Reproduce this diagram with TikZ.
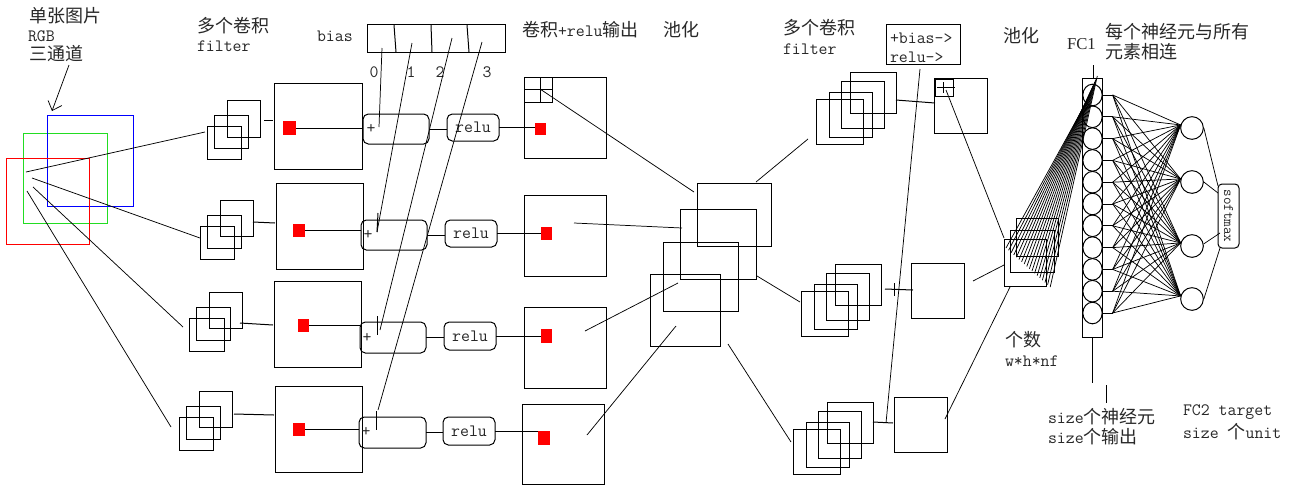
\documentclass[tikz,border=0pt]{standalone}
\usepackage{fontspec}
\setmainfont{Liberation Serif}
\newfontfamily\mycjkfam{Noto Sans CJK SC}
\newfontfamily\myseriffam{Liberation Serif}
\newcommand\mylat{\ttfamily\fontsize{13}{15}\selectfont}
\newcommand\mycjk{\mycjkfam\fontsize{13.5}{15}\selectfont}
\usetikzlibrary{fit,arrows.meta,shapes.geometric}
\newcommand\mybox[6][]{\node[bxs,#1,fit={(#3,#4) (#5,#6)}] (#2) {};}
\definecolor{imgG}{RGB}{34,221,34}
\definecolor{txtc}{RGB}{40,40,40}
\begin{document}
\begin{tikzpicture}[x=0.75pt,y=-0.75pt,line width=0.75pt,
 bxs/.style={draw,inner sep=0pt,outer sep=0pt},
 rbx/.style={rounded corners=4pt},
 rsq/.style={fill=red,draw=none},
 txt/.style={anchor=west,inner sep=0pt,outer sep=0pt,font=\mylat,text=txtc},
 ctxt/.style={anchor=west,inner sep=0pt,outer sep=0pt,font=\mycjk,text=txtc},
 ctr/.style={inner sep=0pt,outer sep=0pt,font=\mylat,text=txtc},
 fine/.style={line width=0.55pt}]
\fill[white] (0,0) rectangle (1290,487);
\useasboundingbox (0,0) rectangle (1290,487);

% ---------- input image ----------
\mybox[draw=imgG]{chG}{23}{133}{107}{223}
\mybox[draw=blue]{chB}{47}{115}{133}{206}
\mybox[draw=red]{chR}{6}{158}{89}{244}
\node[ctxt] (t1) at (30,16) {单张图片};
\node[txt] (t2) at (28,36) {RGB};
\node[ctxt] (t3) at (30,54) {三通道};
\coordinate (arrS) at (69,65);
\coordinate (arrE) at (52,111);
\draw[fine,-{Straight Barb[length=6pt,width=11pt]}] (arrS) -- (arrE);

% ---------- row 1 ----------
\mybox{s1a}{207}{126}{241}{159}
\mybox{s1b}{214}{115}{248}{148}
\mybox{s1c}{227}{100}{260}{137}
\mybox{B1}{274}{83}{362}{169}
\mybox[rsq]{r1}{283}{121}{296}{135}
\mybox[rbx]{P1}{363}{114}{429}{144}
\node[ctr] (pl1) at (371,129) {+};
\mybox[rbx]{R1}{447}{114}{499}{141}
\node[ctr] (rl1) at (R1.center) {relu};
\mybox{O1}{524}{77}{606}{158}
\mybox{g1}{524}{77}{552}{102}
\draw (524,89) -- (552,89) (540,77) -- (540,102);
\mybox[rsq]{ro1}{535}{123}{546}{135}
\draw (264,120) -- (273,120);
\draw (r1.east) -- (r1.east -| P1.west);
\draw (P1.east) -- (P1.east -| R1.west);
\draw (R1.east) -- (R1.east -| ro1.west);

% ---------- row 2 ----------
\mybox{s2a}{200}{226}{234}{259}
\mybox{s2b}{207}{215}{241}{248}
\mybox{s2c}{220}{200}{253}{236}
\mybox{B2}{276}{183}{363}{269}
\mybox[rsq]{r2}{293}{224}{305}{237}
\mybox[rbx]{P2}{361}{220}{427}{250}
\node[ctr] (pl2) at (368,235) {+};
\mybox[rbx]{R2}{445}{220}{497}{247}
\node[ctr] (rl2) at (R2.center) {relu};
\mybox{O2}{524}{195}{606}{276}
\mybox[rsq]{ro2}{541}{227}{552}{240}
\draw (253,222) -- (275,223);
\draw (r2.east) -- (r2.east -| P2.west);
\draw (P2.east) -- (P2.east -| R2.west);
\draw (R2.east) -- (R2.east -| ro2.west);

% ---------- row 3 ----------
\mybox{s3a}{189}{318}{224}{351}
\mybox{s3b}{196}{307}{230}{340}
\mybox{s3c}{209}{292}{242}{328}
\mybox{B3}{274}{281}{361}{367}
\mybox[rsq]{r3}{298}{319}{309}{332}
\mybox[rbx]{P3}{360}{322}{426}{353}
\node[ctr] (pl3) at (367,338) {+};
\mybox[rbx]{R3}{444}{322}{496}{350}
\node[ctr] (rl3) at (R3.center) {relu};
\mybox{O3}{524}{307}{606}{388}
\mybox[rsq]{ro3}{541}{329}{552}{343}
\draw (240,323) -- (273,325);
\draw (r3.east) -- (r3.east -| P3.west);
\draw (P3.east) -- (P3.east -| R3.west);
\draw (R3.east) -- (R3.east -| ro3.west);

% ---------- row 4 ----------
\mybox{s4a}{179}{417}{213}{450}
\mybox{s4b}{186}{406}{220}{439}
\mybox{s4c}{199}{391}{232}{427}
\mybox{B4}{275}{386}{362}{472}
\mybox[rsq]{r4}{293}{423}{305}{436}
\mybox[rbx]{P4}{359}{417}{426}{448}
\node[ctr] (pl4) at (366,432) {+};
\mybox[rbx]{R4}{443}{417}{495}{445}
\node[ctr] (rl4) at (R4.center) {relu};
\mybox{O4}{522}{404}{604}{484}
\mybox[rsq]{ro4}{538}{431}{550}{445}
\draw (234,414) -- (274,415);
\draw (r4.east) -- (r4.east -| P4.west);
\draw (P4.east) -- (P4.east -| R4.west);
\draw (R4.east) -- (R4.east -| ro4.west);

% ---------- fan from input ----------
\draw[fine] (26,172) -- (205,132);
\draw[fine] (32,178) -- (200,238);
\draw[fine] (33,187) -- (183,327);
\draw[fine] (27,191) -- (171,427);

% ---------- bias ----------
\node[txt] (tb) at (317,36) {bias};
\mybox{bias}{367}{24}{505}{52}
\draw (394,25) -- (396,52) (431,25) -- (432,52) (467,25) -- (469,52);
\node[ctr] (n0) at (374,72) {0};
\node[ctr] (n1) at (411,72) {1};
\node[ctr] (n2) at (440,72) {2};
\node[ctr] (n3) at (487,72) {3};
\draw[fine] (382,48) -- (379,127);
\draw[fine] (412,43) -- (377,232);
\draw[fine] (452,38) -- (380,330);
\draw[fine] (482,42) -- (378,410);
\draw (378,213) -- (377,232);
\draw (377,316) -- (377,335);
\draw (376,411) -- (376,430);

% ---------- titles ----------
\node[ctxt] (t4) at (197,26) {多个卷积};
\node[txt] (t5) at (197,46) {filter};
\node[txt] (t6) at (522,30) {{\mycjk 卷积}+relu{\mycjk 输出}};
\node[ctxt] (t7) at (663,30) {池化};

% ---------- pooling 1 ----------
\mybox{pA}{697}{183}{771}{246}
\mybox{pB}{680}{209}{756}{279}
\mybox{pC}{663}{242}{738}{311}
\mybox{pD}{650}{274}{720}{346}
\draw[fine] (540,89) -- (694,192);
\draw[fine] (574,223) -- (682,228);
\draw[fine] (585,331) -- (678,283);
\draw[fine] (587,435) -- (676,326);
\draw[fine] (756,182) -- (808,139);
\draw[fine] (757,276) -- (800,302);
\draw[fine] (728,344) -- (791,442);

% ---------- stage 2 ----------
\node[ctxt] (t8) at (783,28) {多个卷积};
\node[txt] (t9) at (783,49) {filter};
\mybox{bx2}{886}{24}{960}{64}
\node[txt] (t10) at (890,38) {+bias->};
\node[txt] (t11) at (890,57) {relu->};
\node[ctxt] (t12) at (1003,36) {池化};

\mybox{u1a}{816}{99}{863}{144}
\mybox{u1b}{829}{92}{872}{137}
\mybox{u1c}{841}{81}{884}{128}
\mybox{u1d}{850}{72}{896}{113}
\mybox{T1}{934}{78}{987}{133}
\mybox{T1i}{935}{79}{953}{96}
\draw (937,87) -- (955,87) (943,82) -- (943,93);
\draw (896,100) -- (935,103);

\mybox{u2a}{801}{291}{848}{336}
\mybox{u2b}{814}{284}{857}{329}
\mybox{u2c}{826}{273}{869}{320}
\mybox{u2d}{835}{264}{881}{305}
\mybox{T2}{911}{263}{964}{318}
\draw (885,289) -- (913,290);
\draw (894,283) -- (894,296);

\mybox{u3a}{793}{429}{840}{474}
\mybox{u3b}{806}{422}{849}{467}
\mybox{u3c}{818}{411}{861}{458}
\mybox{u3d}{827}{402}{873}{443}
\mybox{T3}{894}{397}{947}{452}
\draw (873,422) -- (893,423);

\draw[fine] (920,69) -- (886,423);
\draw[fine] (946,90) -- (1004,238);
\draw[fine] (973,281) -- (1004,265);
\draw[fine] (945,419) -- (1010,287);

% ---------- pooling 2 ----------
\mybox{q1}{1004}{239}{1046}{286}
\mybox{q2}{1010}{230}{1054}{272}
\mybox{q3}{1016}{218}{1058}{256}
\node[ctxt] (t13) at (1005,340) {个数};
\node[txt] (t14) at (1005,361) {w*h*nf};

% ---------- FC1 ----------
\node[txt,font=\myseriffam\fontsize{12.5}{14}\selectfont] (t15) at (1067,44) {FC1};
\node[ctxt] (t16) at (1105,32) {每个神经元与所有};
\node[ctxt] (t17) at (1105,52) {元素相连};
\mybox{fc1}{1082}{78}{1102}{337}
\foreach \i in {0,...,10}
  \node[draw,ellipse,inner sep=0pt,minimum width=14.5pt,minimum height=16.2pt] (f\i) at (1092.5,{95+21.8*\i}) {};
\draw (1093,65) -- (1093,78);
\draw (1092,337) -- (1092,383);
\draw (1106,385) -- (1106,403);
\foreach \i in {0,...,17}
  \draw[fine] ({1006+2.6*\i},{248+2.3*\i}) -- ({1082+0.9*\i},{110-2*\i});

% ---------- FC2 ----------
\foreach \n/\y in {1/128,2/182,3/246,4/299}
  \node[draw,circle,inner sep=0pt,minimum size=17pt] (c\n) at (1192,\y) {};
\foreach \i in {0,...,10}{
  \draw[fine] (f\i.east) -- ++(10,0) coordinate (h\i);
  \foreach \n in {1,...,4} \draw[fine] (h\i) -- (c\n.165);
}
\mybox[rounded corners=3pt]{sm}{1218}{184}{1239}{248}
\node[rotate=-90,inner sep=0pt,font=\ttfamily\fontsize{11}{12}\selectfont,text=txtc] (smt) at (sm.center) {softmax};
\draw[fine] (c1.east) -- (1218,186);
\draw[fine] (c2.east) -- (1218,193);
\draw[fine] (c3.10) -- (1220,233);
\draw[fine] (c4.east) -- (1220,248);

\node[txt] (t18) at (1048,417) {size{\mycjk 个神经元}};
\node[txt] (t19) at (1048,437) {size{\mycjk 个输出}};
\node[txt] (t20) at (1183,412) {FC2 target};
\node[txt] (t21) at (1183,432) {size {\mycjk 个}unit};
\end{tikzpicture}
\end{document}
